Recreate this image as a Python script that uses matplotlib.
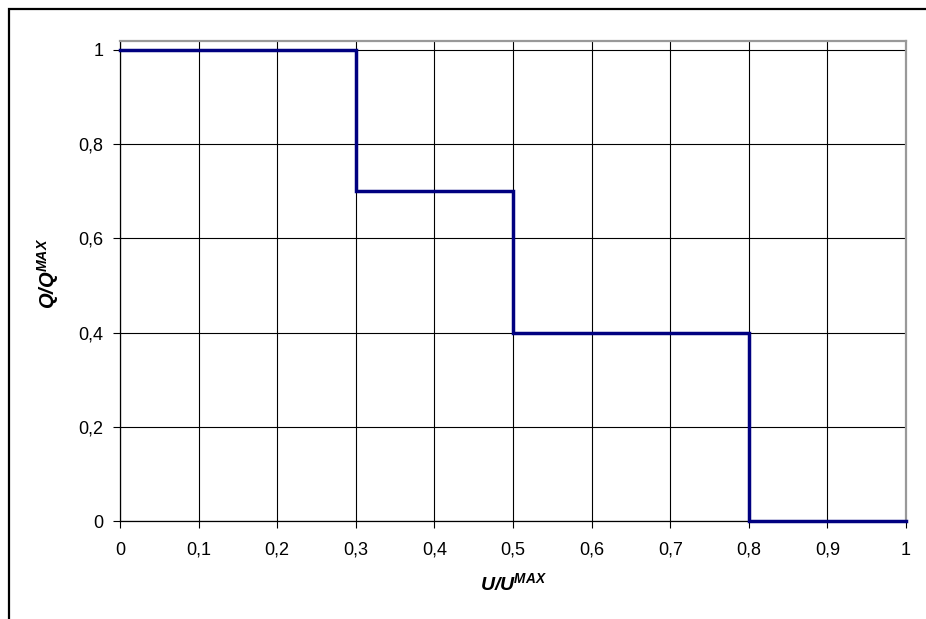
import matplotlib
matplotlib.use("Agg")
import matplotlib.pyplot as plt
from matplotlib.lines import Line2D

plt.rcParams['font.family'] = ['Liberation Sans', 'DejaVu Sans']
plt.rcParams['mathtext.fontset'] = 'custom'
plt.rcParams['mathtext.bfit'] = 'Liberation Sans:bold:italic'
plt.rcParams['mathtext.rm'] = 'Liberation Sans'

# step profile: relative flow vs relative voltage
u_edges = [0, 0.3, 0.5, 0.8, 1.0]
q_levels = [1.0, 0.7, 0.4, 0.0]

x_ticks = [0, 0.1, 0.2, 0.3, 0.4, 0.5, 0.6, 0.7, 0.8, 0.9, 1.0]
y_ticks = [0, 0.2, 0.4, 0.6, 0.8, 1.0]


def comma(v):
    s = ('%g' % v).replace('.', ',')
    return s


fig = plt.figure(figsize=(9.26, 6.19), dpi=100)
ax = fig.add_axes([120 / 926, 1 - 521 / 619, 786 / 926, 480 / 619])

# build step outline from the edges and levels
xs, ys = [], []
for i, q in enumerate(q_levels):
    xs += [u_edges[i], u_edges[i + 1]]
    ys += [q, q]
ax.plot(xs, ys, color='#000080', lw=2.5, solid_joinstyle='miter', zorder=5, clip_on=False)

ax.set_xlim(0, 1)
ax.set_ylim(0, 1.019)
ax.set_xticks(x_ticks)
ax.set_yticks(y_ticks)
ax.set_xticklabels([comma(v) for v in x_ticks])
ax.set_yticklabels([comma(v) for v in y_ticks])
ax.grid(True, color='black', lw=0.8)
ax.set_axisbelow(True)

ax.tick_params(axis='both', direction='out', length=5, width=0.8, labelsize=13, colors='black')
ax.tick_params(axis='x', pad=10)
ax.tick_params(axis='y', pad=7)

for side in ['top', 'right']:
    ax.spines[side].set_color('#999999')
    ax.spines[side].set_linewidth(1.6)
for side in ['left', 'bottom']:
    ax.spines[side].set_color('black')
    ax.spines[side].set_linewidth(0.9)

ax.set_xlabel(r'$\mathbfit{U/U}^{\mathbfit{MAX}}$', fontsize=14, labelpad=10)
ax.set_ylabel(r'$\mathbfit{Q/Q}^{\mathbfit{MAX}}$', fontsize=14.5)
ax.yaxis.set_label_coords(-0.075, 0.515)

# outer chart frame (left and top edges)
fx = 8.5 / 926
fy = 1 - 8.5 / 619
fig.add_artist(Line2D([fx, fx, 1], [0, fy, fy], color='black', lw=1.6,
                      transform=fig.transFigure, solid_joinstyle='miter'))

fig.savefig('out.png', dpi=100)
